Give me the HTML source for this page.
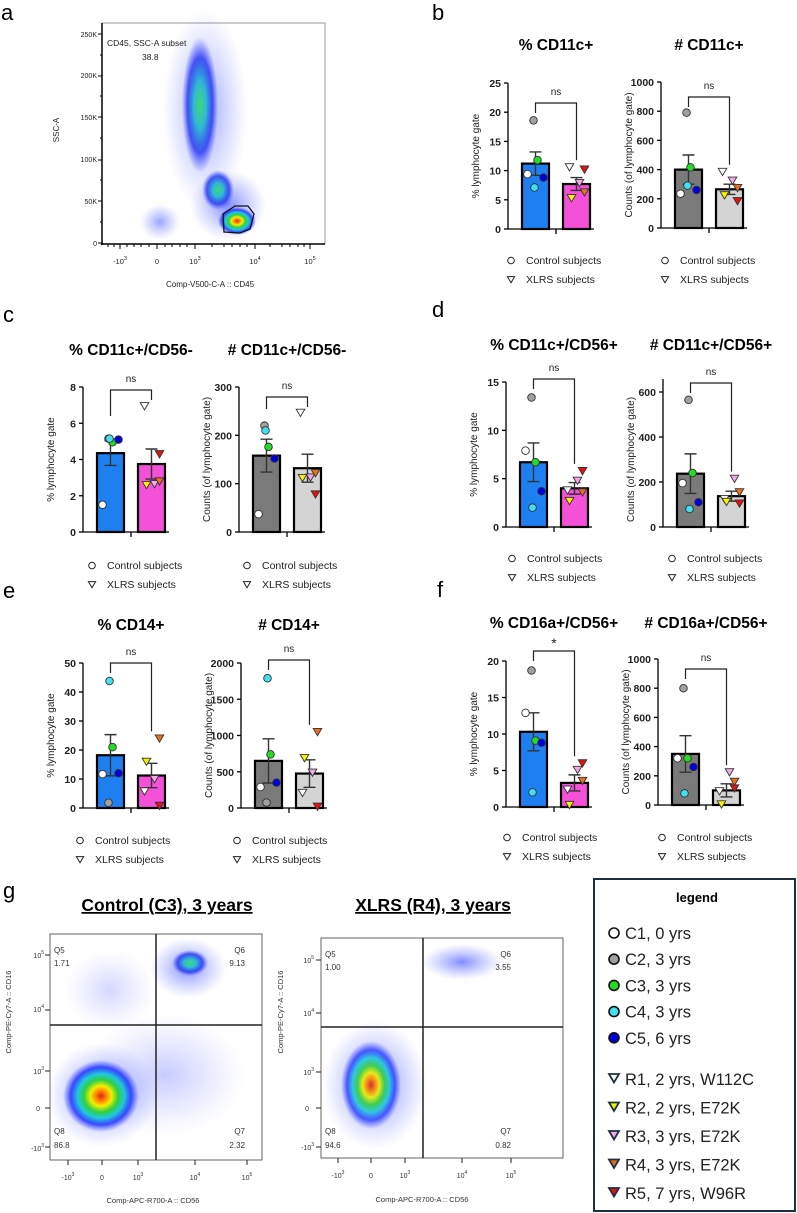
<!DOCTYPE html>
<html><head><meta charset="utf-8"><style>
body{margin:0;background:#fff;}
svg{display:block;font-family:"Liberation Sans",Arial,sans-serif;}
</style></head><body>
<svg id="fig" width="797" height="1213" viewBox="0 0 797 1213" xmlns="http://www.w3.org/2000/svg">
<defs>
<radialGradient id="heat"><stop offset="0" stop-color="#e0201a"/><stop offset="0.15" stop-color="#ff8a00"/><stop offset="0.28" stop-color="#f0f000"/><stop offset="0.45" stop-color="#30d040"/><stop offset="0.62" stop-color="#20c8e0"/><stop offset="0.8" stop-color="#2030ff" stop-opacity="0.85"/><stop offset="1" stop-color="#4050ff" stop-opacity="0"/></radialGradient>
<radialGradient id="cool"><stop offset="0" stop-color="#40d870"/><stop offset="0.35" stop-color="#30b8d8"/><stop offset="0.7" stop-color="#2030f0" stop-opacity="0.8"/><stop offset="1" stop-color="#4050ff" stop-opacity="0"/></radialGradient>
<radialGradient id="faint"><stop offset="0" stop-color="#3040ff" stop-opacity="0.6"/><stop offset="1" stop-color="#6070ff" stop-opacity="0"/></radialGradient>
</defs>

<!-- Panel a -->
<g>
<text x="1" y="20" font-size="22">a</text>
<rect x="102" y="23" width="223" height="221" fill="none" stroke="#999" stroke-width="1"/>
<line x1="102" y1="23" x2="102" y2="245" stroke="#000" stroke-width="1.5"/>
<line x1="101" y1="244" x2="325" y2="244" stroke="#000" stroke-width="1.5"/>
<g stroke="#000" stroke-width="1">
<path d="M120,244v5M157,244v5M195,244v5M255,244v5M310,244v5M108,244v3M114,244v3M127,244v3M134,244v3M141,244v3M149,244v3M165,244v3M172,244v3M180,244v3M187,244v3M212,244v3M224,244v3M232,244v3M240,244v3M247,244v3M270,244v3M282,244v3M290,244v3M298,244v3M304,244v3"/>
<path d="M102,34h-4M102,76h-4M102,117h-4M102,160h-4M102,201h-4M102,243h-4M102,55h-2M102,96h-2M102,138h-2M102,180h-2M102,222h-2"/>
</g>
<ellipse cx="205" cy="110" rx="42" ry="100" fill="url(#faint)" opacity="0.8"/>
<ellipse cx="200" cy="105" rx="18" ry="68" fill="url(#cool)"/>
<ellipse cx="228" cy="205" rx="38" ry="35" fill="url(#faint)"/>
<ellipse cx="218" cy="190" rx="16" ry="20" fill="url(#cool)"/>
<ellipse cx="160" cy="222" rx="20" ry="18" fill="url(#faint)" opacity="0.8"/>
<ellipse cx="237" cy="221" rx="19" ry="14" fill="url(#heat)"/>
<polygon points="223,214 235,206 248,206 254,214 250,229 240,233 224,232" fill="none" stroke="#111" stroke-width="1.3"/>
<text x="107" y="46" font-size="8.5" fill="#222">CD45, SSC-A subset</text>
<text x="142" y="60" font-size="8.5" fill="#222">38.8</text>
<g font-size="7" fill="#222" text-anchor="end">
<text x="97" y="37">250K</text><text x="97" y="78">200K</text><text x="97" y="120">150K</text><text x="97" y="162">100K</text><text x="97" y="204">50K</text><text x="97" y="246">0</text></g>
<g font-size="7.5" fill="#222" text-anchor="middle">
<text x="120" y="264">-10<tspan dy="-4" font-size="5.5">3</tspan></text><text x="157" y="264">0</text><text x="195" y="264">10<tspan dy="-4" font-size="5.5">3</tspan></text><text x="255" y="264">10<tspan dy="-4" font-size="5.5">4</tspan></text><text x="310" y="264">10<tspan dy="-4" font-size="5.5">5</tspan></text></g>
<text x="210" y="287" font-size="8" text-anchor="middle" fill="#222">Comp-V500-C-A :: CD45</text>
<text transform="translate(59,130) rotate(-90)" font-size="8" text-anchor="middle" fill="#222">SSC-A</text>
</g>

<g font-size="22">
<text x="432" y="20">b</text>
<text x="3" y="322">c</text>
<text x="432" y="317">d</text>
<text x="3" y="598">e</text>
<text x="437" y="597">f</text>
<text x="3" y="898">g</text>
</g>
<g id="charts"></g>

<!-- Panel g -->
<g>
<text x="167" y="911" font-size="17.5" font-weight="bold" text-anchor="middle" text-decoration="underline">Control (C3), 3 years</text>
<text x="433" y="911" font-size="17.5" font-weight="bold" text-anchor="middle" text-decoration="underline">XLRS (R4), 3 years</text>
<g>
<rect x="50" y="934" width="212" height="226" fill="none" stroke="#666" stroke-width="1"/>
<ellipse cx="110" cy="990" rx="45" ry="40" fill="url(#faint)" opacity="0.35"/>
<ellipse cx="188" cy="968" rx="38" ry="30" fill="url(#faint)"/>
<ellipse cx="190" cy="963" rx="18" ry="13" fill="url(#cool)"/>
<ellipse cx="165" cy="1075" rx="80" ry="60" fill="url(#faint)" opacity="0.45"/>
<ellipse cx="102" cy="1095" rx="55" ry="52" fill="url(#faint)"/>
<ellipse cx="101" cy="1096" rx="38" ry="36" fill="url(#heat)"/>
<line x1="156" y1="934" x2="156" y2="1160" stroke="#222" stroke-width="1.5"/>
<line x1="50" y1="1025" x2="262" y2="1025" stroke="#222" stroke-width="1.5"/>
<path d="M68,1160v5M102,1160v5M138,1160v5M195,1160v5M247,1160v5M50,955h-5M50,1010h-5M50,1071h-5M50,1108h-5M50,1147h-5" stroke="#222" stroke-width="1"/>
<g font-size="8" fill="#333"><text x="54" y="953">Q5</text><text x="54" y="966">1.71</text><text x="245" y="953" text-anchor="end">Q6</text><text x="245" y="966" text-anchor="end">9.13</text><text x="54" y="1134">Q8</text><text x="54" y="1148">86.8</text><text x="245" y="1134" text-anchor="end">Q7</text><text x="245" y="1148" text-anchor="end">2.32</text></g>
<g font-size="7" fill="#333" text-anchor="end"><text x="44" y="958">10<tspan dy="-4" font-size="5">5</tspan></text><text x="44" y="1012">10<tspan dy="-4" font-size="5">4</tspan></text><text x="44" y="1074">10<tspan dy="-4" font-size="5">3</tspan></text><text x="40" y="1111">0</text><text x="44" y="1151">-10<tspan dy="-4" font-size="5">3</tspan></text></g>
<g font-size="7" fill="#333" text-anchor="middle"><text x="68" y="1180">-10<tspan dy="-4" font-size="5">3</tspan></text><text x="102" y="1180">0</text><text x="138" y="1180">10<tspan dy="-4" font-size="5">3</tspan></text><text x="195" y="1180">10<tspan dy="-4" font-size="5">4</tspan></text><text x="247" y="1180">10<tspan dy="-4" font-size="5">5</tspan></text></g>
<text x="153" y="1203" font-size="7.5" text-anchor="middle" fill="#333">Comp-APC-R700-A :: CD56</text>
<text transform="translate(11,1012) rotate(-90)" font-size="7.5" text-anchor="middle" fill="#333">Comp-PE-Cy7-A :: CD16</text>
</g>
<g>
<rect x="321" y="938" width="242" height="220" fill="none" stroke="#666" stroke-width="1"/>
<ellipse cx="462" cy="962" rx="40" ry="18" fill="url(#faint)"/>
<ellipse cx="375" cy="1085" rx="52" ry="64" fill="url(#faint)"/>
<ellipse cx="371" cy="1085" rx="30" ry="44" fill="url(#heat)" opacity="0.9"/>
<line x1="423" y1="938" x2="423" y2="1158" stroke="#222" stroke-width="1.5"/>
<line x1="321" y1="1027" x2="563" y2="1027" stroke="#222" stroke-width="1.5"/>
<path d="M338,1158v5M371,1158v5M405,1158v5M462,1158v5M511,1158v5M321,960h-5M321,1013h-5M321,1072h-5M321,1108h-5M321,1147h-5" stroke="#222" stroke-width="1"/>
<g font-size="8" fill="#333"><text x="325" y="957">Q5</text><text x="325" y="970">1.00</text><text x="511" y="957" text-anchor="end">Q6</text><text x="511" y="970" text-anchor="end">3.55</text><text x="325" y="1134">Q8</text><text x="325" y="1148">94.6</text><text x="511" y="1134" text-anchor="end">Q7</text><text x="511" y="1148" text-anchor="end">0.82</text></g>
<g font-size="7" fill="#333" text-anchor="end"><text x="314" y="963">10<tspan dy="-4" font-size="5">5</tspan></text><text x="314" y="1016">10<tspan dy="-4" font-size="5">4</tspan></text><text x="314" y="1075">10<tspan dy="-4" font-size="5">3</tspan></text><text x="309" y="1111">0</text><text x="314" y="1150">-10<tspan dy="-4" font-size="5">3</tspan></text></g>
<g font-size="7" fill="#333" text-anchor="middle"><text x="338" y="1178">-10<tspan dy="-4" font-size="5">3</tspan></text><text x="371" y="1178">0</text><text x="405" y="1178">10<tspan dy="-4" font-size="5">3</tspan></text><text x="462" y="1178">10<tspan dy="-4" font-size="5">4</tspan></text><text x="511" y="1178">10<tspan dy="-4" font-size="5">5</tspan></text></g>
<text x="422" y="1202" font-size="7.5" text-anchor="middle" fill="#333">Comp-APC-R700-A :: CD56</text>
<text transform="translate(283,1012) rotate(-90)" font-size="7.5" text-anchor="middle" fill="#333">Comp-PE-Cy7-A :: CD16</text>
</g>
<g>
<rect x="594" y="879" width="201" height="332" fill="#fff" stroke="#1e3040" stroke-width="2"/>
<text x="697" y="902" font-size="13" font-weight="bold" text-anchor="middle">legend</text>
<g id="subjLegend" font-size="16.5" fill="#222"></g>
</g>
</g>
</svg>
<script>
const NS = "http://www.w3.org/2000/svg";
const ctrlColors = ["#ffffff", "#a0a0a0", "#22dd22", "#40e0f0", "#0000e0"];
const xlrsColors = ["#ffffff", "#f5f500", "#f4a8e8", "#e8701a", "#e81010"];
const ctrlLegend = ["C1, 0 yrs", "C2, 3 yrs", "C3, 3 yrs", "C4, 3 yrs", "C5, 6 yrs"];
const xlrsLegend = ["R1, 2 yrs, W112C", "R2, 2 yrs, E72K", "R3, 3 yrs, E72K", "R4, 3 yrs, E72K", "R5, 7 yrs, W96R"];

// Chart data arrays: [control, XLRS]
const b1Means = [11.2, 7.7]; const b1Sem = [2.0, 1.1];
const b1Ctrl = [9.4, 18.6, 11.8, 7.1, 8.8]; const b1Xlrs = [10.6, 5.3, 7.9, 6.3, 10.2];
const b1Ticks = [0, 5, 10, 15, 20, 25];
const b2Means = [400, 265]; const b2Sem = [100, 35];
const b2Ctrl = [235, 790, 415, 290, 260]; const b2Xlrs = [385, 225, 325, 275, 185];
const b2Ticks = [0, 200, 400, 600, 800, 1000];
const c1Means = [4.35, 3.75]; const c1Sem = [0.68, 0.83];
const c1Ctrl = [1.5, 5.15, 4.95, 5.15, 5.1]; const c1Xlrs = [6.95, 2.6, 2.65, 2.8, 4.3];
const c1Ticks = [0, 2, 4, 6, 8];
const c2Means = [158, 132]; const c2Sem = [34, 29];
const c2Ctrl = [37, 220, 176, 210, 152]; const c2Xlrs = [247, 112, 113, 122, 78];
const c2Ticks = [0, 100, 200, 300];
const d1Means = [6.7, 4.0]; const d1Sem = [2.0, 0.6];
const d1Ctrl = [7.9, 13.4, 6.7, 2.0, 3.7]; const d1Xlrs = [3.8, 2.7, 4.8, 3.6, 5.8];
const d1Ticks = [0, 5, 10, 15];
const d2Means = [237, 137]; const d2Sem = [88, 22];
const d2Ctrl = [195, 565, 240, 80, 110]; const d2Xlrs = [125, 112, 215, 155, 105];
const d2Ticks = [0, 200, 400, 600];
const e1Means = [18.2, 11.2]; const e1Sem = [7.1, 4.2];
const e1Ctrl = [11.7, 1.8, 21, 43.8, 12]; const e1Xlrs = [5.8, 16, 10, 24, 0.8];
const e1Ticks = [0, 10, 20, 30, 40, 50];
const e2Means = [650, 475]; const e2Sem = [305, 190];
const e2Ctrl = [290, 75, 740, 1790, 350]; const e2Xlrs = [210, 690, 490, 1050, 20];
const e2Ticks = [0, 500, 1000, 1500, 2000];
const f1Means = [10.3, 3.3]; const f1Sem = [2.6, 1.1];
const f1Ctrl = [12.9, 18.7, 9.1, 2.0, 8.8]; const f1Xlrs = [2.4, 0.3, 5.1, 3.6, 6.0];
const f1Ticks = [0, 5, 10, 15, 20];
const f2Means = [350, 100]; const f2Sem = [125, 45];
const f2Ctrl = [320, 800, 320, 80, 260]; const f2Xlrs = [95, 5, 225, 160, 115];
const f2Ticks = [0, 200, 400, 600, 800, 1000];
const sigLabels = ["ns", "ns", "ns", "ns", "ns", "ns", "ns", "ns", "*", "ns"];

const ctrlDx = [-8, -2, 2, -1, 8];
const xlrsDx = [-7, -5, 3, 8, 8];

const charts = [
  {id:"b1", title:"% CD11c+", ax:508, y0:229, yt:83, top:25, means:b1Means, sem:b1Sem, ctrl:b1Ctrl, xl:b1Xlrs, ticks:b1Ticks, colors:["#1e7ff0","#f450d8"], yl:"% lymphocyte gate", ty:50, by:103, ld:10, sig:sigLabels[0], legY:264, legX:511},
  {id:"b2", title:"# CD11c+", ax:661, y0:228, yt:82, top:1000, means:b2Means, sem:b2Sem, ctrl:b2Ctrl, xl:b2Xlrs, ticks:b2Ticks, colors:["#7a7a7a","#d4d4d4"], yl:"Counts (of lymphocyte gate)", ty:50, by:97, ld:10, sig:sigLabels[1], legY:264, legX:665},
  {id:"c1", title:"% CD11c+/CD56-", ax:83, y0:532, yt:387, top:8, means:c1Means, sem:c1Sem, ctrl:c1Ctrl, xl:c1Xlrs, ticks:c1Ticks, colors:["#1e7ff0","#f450d8"], yl:"% lymphocyte gate", ty:355, by:390, ld:26, sig:sigLabels[2], legY:569, legX:92},
  {id:"c2", title:"# CD11c+/CD56-", ax:239, y0:532, yt:387, top:300, means:c2Means, sem:c2Sem, ctrl:c2Ctrl, xl:c2Xlrs, ticks:c2Ticks, colors:["#7a7a7a","#d4d4d4"], yl:"Counts (of lymphocyte gate)", ty:355, by:397, ld:12, sig:sigLabels[3], legY:569, legX:247},
  {id:"d1", title:"% CD11c+/CD56+", ax:506, y0:527, yt:382, top:15, means:d1Means, sem:d1Sem, ctrl:d1Ctrl, xl:d1Xlrs, ticks:d1Ticks, colors:["#1e7ff0","#f450d8"], yl:"% lymphocyte gate", ty:350, by:379, ld:10, sig:sigLabels[4], legY:562, legX:512},
  {id:"d2", title:"# CD11c+/CD56+", ax:663, y0:527, yt:392, top:600, axTop:379, means:d2Means, sem:d2Sem, ctrl:d2Ctrl, xl:d2Xlrs, ticks:d2Ticks, colors:["#7a7a7a","#d4d4d4"], yl:"Counts (of lymphocyte gate)", ty:350, by:383, ld:10, sig:sigLabels[5], legY:562, legX:672},
  {id:"e1", title:"% CD14+", ax:83, y0:808, yt:663, top:50, means:e1Means, sem:e1Sem, ctrl:e1Ctrl, xl:e1Xlrs, ticks:e1Ticks, colors:["#1e7ff0","#f450d8"], yl:"% lymphocyte gate", ty:630, by:663, ld:10, sig:sigLabels[6], legY:844, legX:80},
  {id:"e2", title:"# CD14+", ax:241, y0:808, yt:663, top:2000, means:e2Means, sem:e2Sem, ctrl:e2Ctrl, xl:e2Xlrs, ticks:e2Ticks, colors:["#7a7a7a","#d4d4d4"], yl:"Counts (of lymphocyte gate)", ty:630, by:660, ld:10, sig:sigLabels[7], legY:844, legX:237},
  {id:"f1", title:"% CD16a+/CD56+", ax:506, y0:807, yt:661, top:20, means:f1Means, sem:f1Sem, ctrl:f1Ctrl, xl:f1Xlrs, ticks:f1Ticks, colors:["#1e7ff0","#f450d8"], yl:"% lymphocyte gate", ty:628, by:651, ld:10, sig:sigLabels[8], legY:841, legX:507},
  {id:"f2", title:"# CD16a+/CD56+", ax:658, y0:805, yt:659, top:1000, means:f2Means, sem:f2Sem, ctrl:f2Ctrl, xl:f2Xlrs, ticks:f2Ticks, colors:["#7a7a7a","#d4d4d4"], yl:"Counts (of lymphocyte gate)", ty:628, by:669, ld:10, sig:sigLabels[9], legY:841, legX:662}
];

function mk(tag, attrs, parent) {
  const e = document.createElementNS(NS, tag);
  for (const k in attrs) e.setAttribute(k, attrs[k]);
  parent.appendChild(e);
  return e;
}
function tri(x, y, s) {
  return `${x - s},${y - s * 0.8} ${x + s},${y - s * 0.8} ${x},${y + s * 0.9}`;
}
const root = document.getElementById("charts");
charts.forEach(c => {
  const g = mk("g", {}, root);
  
  
  const yS = v => c.y0 - (v / c.top) * (c.y0 - c.yt);
  const b1x = c.ax + 14, b2x = c.ax + 55, bw = 27;
  const cx = [b1x + bw / 2, b2x + bw / 2];
  const t = mk("text", {x: c.ax + 48, y: c.ty, "font-size": 15.5, "font-weight": "bold", "text-anchor": "middle"}, g);
  t.textContent = c.title;
  
  
  [0, 1].forEach(i => {
    const x = i === 0 ? b1x : b2x;
    const r = mk("rect", {x: x, y: yS(c.means[i]), width: bw, height: c.y0 - yS(c.means[i]), fill: c.colors[i], stroke: "#000", "stroke-width": 2.2}, g);
    
    
    const eb = mk("path", {d: `M${cx[i]},${yS(c.means[i] - c.sem[i])}V${yS(c.means[i] + c.sem[i])}M${cx[i] - 6},${yS(c.means[i] + c.sem[i])}H${cx[i] + 6}M${cx[i] - 6},${yS(c.means[i] - c.sem[i])}H${cx[i] + 6}`, stroke: "#333", "stroke-width": 1.4, fill: "none"}, g);
    
    
  });
  const axTop = c.axTop !== undefined ? c.axTop : c.yt;
  const ax = mk("path", {d: `M${c.ax},${axTop}V${c.y0}H${c.ax + 86}M${c.ax + 48},${c.y0}v5`, stroke: "#000", "stroke-width": 1.3, fill: "none"}, g);
  
  
  c.ticks.forEach(v => {
    const y = yS(v);
    const tk = mk("line", {x1: c.ax - 4, x2: c.ax, y1: y, y2: y, stroke: "#000", "stroke-width": 1.3}, g);
    
    
    const tl = mk("text", {x: c.ax - 7, y: y + 4, "font-size": 10.5, "font-weight": "bold", "text-anchor": "end", fill: "#222"}, g);
    tl.textContent = v;
    
    
  });
  const yl = mk("text", {transform: `translate(${c.ax - 29},${(c.yt + c.y0) / 2}) rotate(-90)`, "font-size": 10, "text-anchor": "middle", fill: "#222"}, g);
  yl.textContent = c.yl;
  
  
  c.ctrl.forEach((v, i) => {
    const p = mk("circle", {cx: cx[0] + ctrlDx[i], cy: yS(v), r: 3.8, fill: ctrlColors[i], stroke: "#333", "stroke-width": 0.9}, g);
    
    
  });
  c.xl.forEach((v, i) => {
    const p = mk("polygon", {points: tri(cx[1] + xlrsDx[i], yS(v), 4.3), fill: xlrsColors[i], stroke: "#333", "stroke-width": 0.9}, g);
    
    
  });
  const xlTop = Math.max(...c.xl, c.means[1] + c.sem[1]);
  const br = mk("path", {d: `M${cx[0]},${c.by + c.ld}V${c.by}H${cx[1]}V${Math.max(yS(xlTop) - 7, c.by + 10)}`, stroke: "#222", "stroke-width": 1.2, fill: "none"}, g);
  
  
  const sg = mk("text", {x: (cx[0] + cx[1]) / 2, y: c.sig === "*" ? c.by - 3 : c.by - 8, "font-size": c.sig === "*" ? 14 : 10, "text-anchor": "middle", fill: "#222"}, g);
  sg.textContent = c.sig;
  
  
  const lc = mk("circle", {cx: c.legX, cy: c.legY - 3.5, r: 3.3, fill: "#fff", stroke: "#222", "stroke-width": 1}, g);
  
  
  const lt1 = mk("text", {x: c.legX + 15, y: c.legY, "font-size": 10.5, fill: "#222"}, g);
  lt1.textContent = "Control subjects";
  
  
  const lm = mk("polygon", {points: tri(c.legX, c.legY + 15.5, 3.6), fill: "#fff", stroke: "#222", "stroke-width": 1}, g);
  
  
  const lt2 = mk("text", {x: c.legX + 15, y: c.legY + 19, "font-size": 10.5, fill: "#222"}, g);
  lt2.textContent = "XLRS subjects";
  
  
});

const sl = document.getElementById("subjLegend");
ctrlLegend.forEach((s, i) => {
  const y = 933 + i * 26.2;
  const m = mk("circle", {cx: 614, cy: y, r: 5, fill: ctrlColors[i], stroke: "#111", "stroke-width": 1.6}, sl);
  
  
  const t = mk("text", {x: 625, y: y + 6}, sl);
  t.textContent = s;
  
  
});
xlrsLegend.forEach((s, i) => {
  const y = 1079 + i * 28.5;
  const m = mk("polygon", {points: tri(614, y - 1, 5), fill: xlrsColors[i], stroke: "#1e3040", "stroke-width": 1.8}, sl);
  
  
  const t = mk("text", {x: 625, y: y + 6}, sl);
  t.textContent = s;
  
  
});
</script>
</body></html>
